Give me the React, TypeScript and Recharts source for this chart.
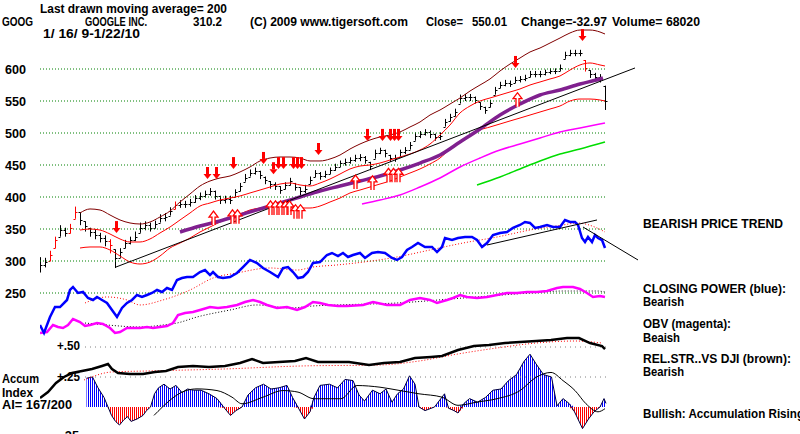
import React from "react";
import { ComposedChart, XAxis, YAxis, Bar, Line, Area, Scatter, ReferenceLine } from "recharts";

// GOOG 1/16/09 - 1/22/10, sampled about every 2nd session (index 0..113)
const closes = [
  294, 298, 309, 333, 348, 344, 352, 377, 364, 355,
  345, 341, 336, 331, 325, 305, 314, 328, 333, 338,
  352, 356, 352, 358, 367, 369, 378, 388, 389, 389,
  392, 398, 402, 405, 409, 402, 395, 397, 395, 408,
  417, 430, 438, 441, 434, 427, 420, 417, 411, 419,
  425, 416, 409, 413, 427, 438, 433, 436, 442, 447,
  453, 455, 458, 461, 462, 458, 448, 469, 473, 469,
  461, 461, 470, 473, 481, 495, 498, 502, 498, 494,
  495, 517, 525, 533, 555, 556, 556, 552, 542, 536,
  547, 567, 575, 578, 577, 583, 584, 586, 592, 592,
  592, 595, 597, 597, 602, 622, 625, 625, 625, 602,
  592, 588, 584, 550.01,
];
const highs = [
  306, 305, 316, 338, 356, 352, 358, 385, 376, 362,
  352, 350, 344, 340, 334, 318, 320, 333, 338, 346,
  360, 362, 360, 363, 373, 375, 384, 393, 395, 394,
  397, 403, 407, 410, 414, 410, 402, 402, 402, 412,
  422, 436, 443, 446, 441, 432, 425, 423, 417, 423,
  430, 422, 415, 419, 432, 442, 439, 441, 446, 452,
  457, 460, 462, 466, 467, 464, 455, 474, 477, 474,
  466, 466, 474, 478, 486, 501, 503, 506, 504, 499,
  501, 522, 530, 538, 560, 561, 561, 557, 548, 541,
  552, 572, 580, 583, 582, 588, 589, 591, 597, 597,
  597, 599, 601, 601, 607, 627, 630, 630, 630, 614,
  598, 594, 592, 574,
];
const lows = [
  282, 290, 300, 320, 338, 338, 343, 366, 356, 346,
  338, 334, 329, 323, 312, 289, 305, 320, 326, 331,
  344, 348, 346, 351, 360, 362, 371, 381, 383, 383,
  385, 391, 395, 399, 402, 396, 389, 390, 389, 400,
  409, 424, 432, 435, 428, 420, 413, 411, 405, 412,
  418, 410, 402, 406, 420, 431, 427, 430, 436, 441,
  447, 449, 452, 455, 456, 452, 442, 460, 467, 462,
  455, 455, 463, 467, 474, 488, 492, 496, 492, 488,
  489, 510, 518, 526, 546, 550, 550, 546, 536, 530,
  540, 560, 570, 573, 572, 578, 579, 581, 587, 587,
  587, 590, 592, 592, 597, 616, 620, 620, 620, 596,
  586, 582, 579, 536,
];
const redBars = [2, 3, 6, 7, 14, 27, 109];

type Pt = [number, number];

const upperBand: Pt[] = [
  [8, 375], [10, 381.3], [12, 379.7], [14, 371.9], [16, 364.1], [18, 359.4], [20, 357.8], [22, 360.9],
  [24, 368.8], [26, 378.1], [28, 392.2], [30, 404.7], [32, 417.2], [34, 425], [36, 429.7], [38, 432.8],
  [40, 439.1], [42, 446.9], [44, 456.3], [46, 460.9], [48, 462.5], [50, 462.5], [52, 460.9], [54, 456.3],
  [56, 456.3], [58, 459.4], [60, 465.6], [62, 475], [64, 482.8], [66, 489.1], [68, 493.8], [70, 496.9],
  [72, 501.6], [74, 509.4], [76, 517.2], [78, 528.1], [80, 535.9], [82, 545.3], [84, 554.7], [86, 565.6],
  [88, 575], [90, 584.4], [92, 596.9], [94, 607.8], [96, 617.2], [98, 626.6], [100, 632.8], [102, 640.6],
  [104, 648.4], [106, 656.3], [108, 660.9], [110, 660.9], [112, 657.8], [113, 654.7],
];
const midBand: Pt[] = [
  [8, 348.4], [10, 350], [12, 348.4], [14, 342.2], [16, 334.4], [18, 329.7], [20, 329.7], [22, 334.4],
  [24, 343.8], [26, 353.1], [28, 364.1], [30, 375], [32, 385.9], [34, 390.6], [36, 395.3], [38, 398.4],
  [40, 401.6], [42, 406.3], [44, 410.9], [46, 415.6], [48, 420.3], [50, 421.9], [52, 418.8], [54, 417.2],
  [56, 421.9], [58, 428.1], [60, 435.9], [62, 443.8], [64, 448.4], [66, 450], [68, 453.1], [70, 457.8],
  [72, 462.5], [74, 467.2], [76, 473.4], [78, 482.8], [80, 496.9], [82, 512.5], [84, 531.3], [86, 542.2],
  [88, 550], [90, 554.7], [92, 559.4], [94, 564.1], [96, 568.8], [98, 575], [100, 579.7], [102, 584.4],
  [104, 589.1], [106, 598.4], [108, 606.3], [110, 609.4], [112, 606.3], [113, 604.7],
];
const lowerBand: Pt[] = [
  [8, 320.3], [10, 321.9], [12, 321.9], [14, 317.2], [16, 307.8], [18, 298.4], [20, 295.3], [22, 298.4],
  [24, 307.8], [26, 320.3], [28, 328.1], [30, 335.9], [32, 345.3], [34, 353.1], [36, 360.9], [38, 367.2],
  [40, 373.4], [42, 379.7], [44, 382.8], [46, 384.4], [48, 384.4], [50, 384.4], [52, 382.8], [54, 382.8],
  [56, 385.9], [58, 392.2], [60, 398.4], [62, 406.3], [64, 410.9], [66, 415.6], [68, 420.3], [70, 425],
  [72, 431.3], [74, 437.5], [76, 443.8], [78, 451.6], [80, 460.9], [82, 475], [84, 485.9], [86, 495.3],
  [88, 504.7], [90, 509.4], [92, 514.1], [94, 518.8], [96, 523.4], [98, 528.1], [100, 532.8], [102, 537.5],
  [104, 542.2], [106, 550], [108, 553.1], [110, 553.1], [112, 551.6], [113, 550],
];
const ma50: Pt[] = [
  [28, 345.3], [32, 354.7], [36, 362.5], [40, 371.9], [44, 381.3], [48, 390.6], [52, 400], [56, 409.4],
  [60, 417.2], [64, 425], [68, 432.8], [72, 442.2], [76, 453.1], [80, 465.6], [84, 485.9], [88, 506.3],
  [92, 528.1], [96, 545.3], [100, 559.4], [104, 567.2], [108, 576.6], [112, 584.4], [112.6, 585.9],
];
const ma100: Pt[] = [
  [64.4, 389.1], [68, 395.3], [72, 403.1], [76, 415.6], [80, 429.7], [84, 446.9], [88, 460.9],
  [92, 473.4], [96, 482.8], [100, 492.2], [104, 501.6], [108, 507.8], [113, 515.6],
];
const ma200: Pt[] = [
  [87.4, 418.8], [92, 431.3], [96, 443.8], [100, 456.3], [104, 467.2], [108, 475], [113, 485.9],
];
const priceTrend: Pt[] = [[15.2, 290.6], [119, 601.6]];

const sells: Pt[] = [
  [15.2, 353], [33.4, 437.5], [35.2, 437.5], [38.6, 453], [44.6, 461], [46.6, 445], [47.6, 453],
  [48.6, 453], [50.6, 453], [51.4, 453], [52.2, 453], [55.6, 475], [65.4, 497], [68.4, 497],
  [70, 497], [70.8, 497], [71.6, 497], [95, 611], [108.4, 653],
];
const buys: Pt[] = [
  [34.6, 367], [38.4, 369], [39.4, 369], [46, 383], [47, 383], [48, 383], [49, 383], [49.8, 383],
  [51, 377], [52, 377], [63, 423.4], [66.4, 422], [69.6, 434], [70.6, 434], [71.6, 434], [95.4, 552],
];

// Closing power (blue), drawn on the price scale
const closingPower: Pt[] = [
  [0, 200], [0.8, 187.5], [2, 212.5], [3, 228.1], [4, 228.1], [5.4, 239.1], [6, 254.7], [6.6, 259.4],
  [7.6, 250], [8.6, 251.6], [9.6, 242.2], [10.6, 239.1], [11.4, 243.8], [12.4, 239.1], [13.4, 234.4],
  [14.4, 223.4], [15.4, 212.5], [16.4, 226.6], [17.4, 234.4], [18.4, 239.1], [19.4, 246.9], [20.4, 243.8],
  [21.4, 246.9], [22.4, 250], [23.4, 254.7], [24.4, 251.6], [25.4, 257.8], [26.4, 254.7], [27.4, 270.3],
  [28.4, 273.4], [29.4, 275], [30.6, 275], [32, 282.8], [33, 285.9], [34, 278.1], [34.6, 282.8],
  [35.6, 275], [36.6, 273.4], [38, 275], [39.4, 281.3], [40.6, 290.6], [42, 301.6], [43.4, 296.9],
  [44.6, 289], [46, 282.8], [47.6, 275], [48.6, 289], [49.6, 290.6], [50.6, 282.8], [51.6, 273.4],
  [52.6, 275], [53.6, 282.8], [54.6, 296.9], [56, 298.4], [57.4, 309.4], [58.4, 312.5], [59.6, 307.8],
  [60.6, 312.5], [61.6, 306.3], [62.6, 309.4], [64, 312.5], [65, 304.7], [66.4, 312.5], [67.6, 314],
  [69, 312.5], [70.4, 304.7], [71.4, 301.6], [72.4, 306.3], [73.4, 317.2], [74.4, 321.9], [75.6, 328.1],
  [77, 321.9], [78.4, 321.9], [79.4, 314], [80.4, 321.9], [81, 335.9], [82.4, 332.8], [83.6, 335.9],
  [85, 337.5], [86.4, 337.5], [87.4, 332.8], [88.4, 321.9], [89.4, 328.1], [90.6, 340.6], [92, 343.8],
  [93.4, 345.3], [94.6, 351.6], [96, 356.3], [97, 360.9], [98, 359.4], [99, 351.6], [100, 353.1],
  [101.4, 356.3], [102.6, 353.1], [104, 353.1], [105, 364], [106, 360.9], [107, 360.9], [107.6, 356.3],
  [108.4, 335.9], [109, 329.7], [109.6, 337.5], [110.4, 329.7], [111, 340.6], [111.6, 335.9],
  [112.4, 332.8], [113, 320.3],
];
const closingPowerMa: Pt[] = [
  [9, 234.4], [13.4, 243.8], [17.4, 239.1], [20, 231.3], [24.6, 239.1], [30, 254.7], [34.6, 273.4],
  [39.4, 281.3], [46, 289.1], [51.4, 285.9], [54.6, 290.6], [59.4, 293.8], [71.4, 306.3], [78, 317.2],
  [84.6, 328.1], [91.4, 337.5], [98, 348.4], [104.6, 356.3], [107.4, 359.4], [111.4, 351.6], [113, 345.3],
];
const cpUpTrend: Pt[] = [[89.4, 325], [111.4, 364.1]];
const cpDownTrend: Pt[] = [[108.6, 353.1], [119.6, 301.6]];

// OBV (magenta), also on the price scale
const obv: Pt[] = [
  [0, 187.5], [1.4, 189.1], [2.6, 200], [3.6, 196.9], [4.6, 195.3], [5.6, 200], [6.6, 209.4], [8, 204.7],
  [9, 198.4], [10, 200], [11.4, 203.1], [12.6, 201.6], [14, 195.3], [15, 187.5], [16, 189.1], [17.4, 195.3],
  [18.6, 195.3], [20, 195.3], [21.4, 196.9], [22.6, 195.3], [24, 196.9], [25.4, 198.4], [26.6, 203.1],
  [27.6, 215.6], [29, 218.8], [30.6, 220.3], [32, 223.4], [34, 228.1], [35.6, 226.6], [37.4, 228.1],
  [39.4, 231.3], [41, 235.9], [42.6, 239.1], [44, 235.9], [45.4, 231.3], [47.4, 226.6], [49.4, 228.1],
  [51.4, 223.4], [53, 228.1], [54.6, 235.9], [56, 234.4], [57.6, 231.3], [59.6, 229.7], [61.4, 229.7],
  [64.6, 231.3], [66.6, 235.9], [69.4, 231.3], [72, 231.3], [74, 239.1], [76, 242.2], [78, 239.1],
  [79.4, 234.4], [81.4, 239.1], [82.6, 242.2], [84, 246.9], [85.4, 243.8], [87.4, 242.2], [89.4, 243.8],
  [91.4, 246.9], [93.4, 250], [95.4, 250], [97.4, 251.6], [99.4, 251.6], [101.4, 253.1], [103.4, 257.8],
  [104.6, 259.4], [106.6, 259.4], [108, 256.3], [109.4, 250], [110.6, 243.8], [112, 245.3], [113, 243.8],
];
const obvMa: Pt[] = [
  [9, 203.1], [13.4, 200], [20, 196.9], [24.6, 200], [27.4, 203.1], [31.4, 212.5], [38, 223.4],
  [43.4, 231.3], [50, 226.6], [54.6, 229.7], [59.4, 231.3], [71.4, 234.4], [84.6, 242.2], [98, 250],
  [104.6, 253.1], [111.4, 253.1], [113, 251.6],
];

// Relative strength vs DJI and accumulation index, on the +.25 / +.50 scale
const relStrength: Pt[] = [
  [0, 0.075], [1.6, 0.125], [3.2, 0.2], [4.8, 0.25], [6.4, 0.283], [8.4, 0.3], [10.4, 0.317], [12.4, 0.342],
  [13.6, 0.358], [14.4, 0.317], [15.6, 0.283], [18, 0.275], [20.6, 0.275], [23, 0.292], [25.2, 0.3],
  [27.6, 0.333], [30.6, 0.342], [33.8, 0.333], [37, 0.342], [40, 0.367], [42.4, 0.4], [44.6, 0.367],
  [47.8, 0.375], [51, 0.383], [53.2, 0.408], [55.6, 0.375], [58.6, 0.375], [61.8, 0.375], [65.8, 0.35],
  [68.8, 0.367], [72, 0.375], [75, 0.408], [78.2, 0.417], [80.4, 0.425], [83.6, 0.475], [86.8, 0.508],
  [89.8, 0.517], [93, 0.533], [96, 0.542], [99.2, 0.55], [102.2, 0.558], [105.4, 0.575], [107.8, 0.575],
  [110, 0.533], [112.4, 0.508], [113, 0.483],
];
const relStrengthMa: Pt[] = [
  [8.8, 0.225], [14.4, 0.292], [21.4, 0.3], [37, 0.317], [52.4, 0.342], [68, 0.35], [75.8, 0.383],
  [83.6, 0.442], [91.4, 0.492], [99.2, 0.533], [107, 0.55], [112.4, 0.533],
];
const accumIndex: Pt[] = [
  [9.3, 0.24], [10.5, 0.25], [11.6, 0.16], [12.8, 0.08], [13.6, 0], [14.3, -0.07], [15.1, -0.12],
  [15.9, -0.15], [16.7, -0.11], [17.5, -0.08], [18.2, -0.12], [19.4, -0.1], [20.6, -0.07], [21.3, -0.03],
  [22.1, 0], [22.9, 0.11], [23.7, 0.16], [24.8, 0.19], [26, 0.15], [27.2, 0.18], [28.4, 0.12], [29.5, 0.15],
  [30.7, 0.14], [32.2, 0.14], [33.8, 0.11], [35.4, 0.07], [36.9, -0.01], [38.1, -0.07], [39.2, -0.03],
  [40.4, 0], [41.6, 0.1], [43.1, 0.16], [44.7, 0.19], [46.2, 0.15], [47.8, 0.16], [49.4, 0.18], [50.5, 0.08],
  [51.7, -0.01], [52.9, -0.1], [54, -0.04], [54.8, 0.08], [56, 0.18], [57.9, 0.19], [59.5, 0.16], [61, 0.23],
  [62.6, 0.22], [63.8, 0.1], [64.9, 0.05], [66.5, 0.14], [68, 0.11], [69.2, 0.15], [70.4, 0.04], [71.5, 0.11],
  [72.7, 0.15], [73.9, 0.26], [75, 0.19], [75.8, 0], [77, -0.03], [78.9, 0], [80.9, 0.11], [81.7, -0.01],
  [82.8, -0.03], [83.6, -0.05], [84.8, 0.03], [85.9, 0.07], [87.5, 0.04], [89.1, 0.08], [90.6, 0.14],
  [92.2, 0.15], [93.7, 0.22], [95.3, 0.27], [96.8, 0.38], [98, 0.44], [99.2, 0.36], [100.7, 0.27],
  [102.3, 0.25], [103.4, 0.01], [104.6, 0.07], [105.8, 0.03], [106.9, -0.04], [108.5, -0.18],
  [109.7, -0.1], [110.8, -0.04], [112, 0], [112.8, 0.07], [113.2, 0.03],
];
const accumMa: Pt[] = [
  [22.8, -0.07], [29.2, 0.137], [31.4, 0.151], [35.4, 0.137], [38.4, 0.082], [40.4, 0.027], [44.6, 0.082],
  [48.6, 0.137], [51.6, 0.124], [54.8, 0.069], [60.2, 0.069], [63.4, 0.179], [68, 0.165], [72, 0.137],
  [75.8, 0.11], [80.4, 0.082], [83.6, 0.014], [87.4, 0.041], [91.4, 0.069], [96, 0.137], [99.2, 0.247],
  [102.2, 0.288], [104.6, 0.22], [107, 0.137], [109.2, 0.027], [111.6, -0.04], [113, -0.014],
];

const priceTicks = [600, 550, 500, 450, 400, 350, 300, 250];
const aiTicks = [0.5, 0.25];

const bars = closes.map((c, i) => ({
  i,
  c,
  hi: highs[i],
  lo: lows[i],
  o: Math.min(highs[i], Math.max(lows[i], i > 0 ? closes[i - 1] : c)),
  red: redBars.includes(i),
  range: [lows[i], highs[i]],
}));
const pts = (list: Pt[]) => list.map(([i, v]) => ({ i, v }));
const aiPos = accumIndex.map(([i, v]) => ({ i, v: Math.max(v, 0) }));
const aiNeg = accumIndex.map(([i, v]) => ({ i, v: Math.min(v, 0) }));

const FONT = "'Liberation Sans', Arial, Helvetica, sans-serif";

const labels = [
  { t: "Last drawn moving average= 200", x: 40, y: 13, w: 187 },
  { t: "GOOG", x: 2, y: 26, w: 31 },
  { t: "GOOGLE INC.", x: 85, y: 26, w: 62 },
  { t: "310.2", x: 193, y: 26, w: 29 },
  { t: "(C) 2009 www.tigersoft.com", x: 250, y: 26, w: 158 },
  { t: "Close=", x: 426, y: 26, w: 37 },
  { t: "550.01", x: 472, y: 26, w: 35 },
  { t: "Change=-32.97", x: 521, y: 26, w: 86 },
  { t: "Volume= 68020", x: 612, y: 26, w: 88 },
  { t: "1/ 16/ 9-1/22/10", x: 43, y: 38, w: 97 },
  { t: "+.50", x: 57, y: 350, w: 23 },
  { t: "+.25", x: 57, y: 381, w: 23 },
  { t: "-.25", x: 57, y: 440, w: 22 },
  { t: "Accum", x: 2, y: 383, w: 37 },
  { t: "Index", x: 2, y: 397, w: 31 },
  { t: "AI= 167/200", x: 2, y: 409, w: 70 },
  { t: "BEARISH PRICE TREND", x: 643, y: 228, w: 140 },
  { t: "CLOSING POWER (blue):", x: 643, y: 293, w: 143 },
  { t: "Bearish", x: 643, y: 306, w: 41 },
  { t: "OBV (magenta):", x: 643, y: 328, w: 88 },
  { t: "Beaish", x: 643, y: 342, w: 37 },
  { t: "REL.STR..VS DJI (brown):", x: 643, y: 363, w: 148 },
  { t: "Bearish", x: 643, y: 376, w: 41 },
  { t: "Bullish: Accumulation Rising", x: 643, y: 418, w: 161 },
];

const PriceBar = (p: any) => {
  const { x, y, width, height, payload } = p;
  if (x == null || y == null || !payload) return null;
  const top = Math.min(y, y + height);
  const h = Math.abs(height);
  const cx = Math.round(x + width / 2) + 0.5;
  const span = payload.hi - payload.lo || 1;
  const yc = Math.round(top + ((payload.hi - payload.c) / span) * h) + 0.5;
  const yo = Math.round(top + ((payload.hi - payload.o) / span) * h) + 0.5;
  const col = payload.red ? "#ff0000" : "#000000";
  return (
    <g stroke={col} strokeWidth={1}>
      <line x1={cx} x2={cx} y1={top} y2={top + h} />
      <line x1={cx - 2} x2={cx} y1={yo} y2={yo} />
      <line x1={cx} x2={cx + 2} y1={yc} y2={yc} />
    </g>
  );
};

const SellArrow = (p: any) => {
  const { cx, cy } = p;
  if (cx == null) return null;
  return (
    <g fill="#ff0000">
      <rect x={cx - 1} y={cy - 6} width={3} height={7} />
      <polygon points={`${cx - 3.5},${cy + 1} ${cx + 4.5},${cy + 1} ${cx + 0.5},${cy + 6}`} />
    </g>
  );
};

const BuyArrow = (p: any) => {
  const { cx, cy } = p;
  if (cx == null) return null;
  return (
    <path
      d={`M${cx - 1} ${cy + 7} V${cy - 1} H${cx - 4} L${cx + 0.5} ${cy - 7} L${cx + 5} ${cy - 1} H${cx + 2} V${cy + 7}`}
      fill="#ffffff"
      stroke="#ff0000"
      strokeWidth={1.3}
    />
  );
};

export default function App() {
  const line = (data: Pt[], axis: string, color: string, width: number, dash?: string, type: any = "monotone") => (
    <Line
      data={pts(data)}
      dataKey="v"
      yAxisId={axis}
      type={type}
      stroke={color}
      strokeWidth={width}
      strokeDasharray={dash}
      dot={false}
      activeDot={false}
      isAnimationActive={false}
    />
  );

  return (
    <div style={{ position: "absolute", left: 0, top: 0, width: 800, height: 434, overflow: "hidden", background: "#fff" }}>
      <svg width={0} height={0} style={{ position: "absolute" }}>
        <defs>
          <pattern id="aiBlue" patternUnits="userSpaceOnUse" width={2} height={4}>
            <rect x={0} y={0} width={1} height={4} fill="#0000ff" />
          </pattern>
          <pattern id="aiRed" patternUnits="userSpaceOnUse" width={2} height={4}>
            <rect x={0} y={0} width={1} height={4} fill="#ff0000" />
          </pattern>
        </defs>
      </svg>
      <ComposedChart width={800} height={434} data={bars} margin={{ top: 0, right: 160, bottom: 0, left: 40 }}>
        <XAxis type="number" dataKey="i" domain={[0, 120]} hide allowDataOverflow />
        <YAxis yAxisId="price" type="number" domain={[29.6875, 707.8125]} hide allowDataOverflow />
        <YAxis yAxisId="ai" type="number" domain={[-0.225, 3.39167]} hide allowDataOverflow />

        {priceTicks.map((t) => (
          <ReferenceLine
            key={t}
            yAxisId="price"
            segment={[{ x: 0, y: t }, { x: 113.4, y: t }]}
            stroke="#008000"
            strokeDasharray="1 2"
            ifOverflow="visible"
          />
        ))}
        {aiTicks.map((t) => (
          <ReferenceLine
            key={t}
            yAxisId="ai"
            segment={[{ x: 9, y: t }, { x: 113.4, y: t }]}
            stroke="#808080"
            strokeDasharray="1 4"
            ifOverflow="visible"
          />
        ))}

        <Area data={aiPos} dataKey="v" yAxisId="ai" type="linear" baseValue={0} fill="url(#aiBlue)" fillOpacity={1} stroke="none" isAnimationActive={false} />
        <Area data={aiNeg} dataKey="v" yAxisId="ai" type="linear" baseValue={0} fill="url(#aiRed)" fillOpacity={1} stroke="none" isAnimationActive={false} />
        {line(accumIndex, "ai", "#000040", 1, undefined, "linear")}
        {line(accumMa, "ai", "#000000", 1)}
        {line(relStrengthMa, "ai", "#ff0000", 1, "1 2")}
        {line(relStrength, "ai", "#000000", 2.5, undefined, "linear")}

        {line(obvMa, "price", "#000000", 1, "1 2")}
        {line(obv, "price", "#ff00ff", 2.5, undefined, "linear")}
        {line(closingPowerMa, "price", "#ff0000", 1, "1 2")}
        {line(closingPower, "price", "#0000ff", 2.5, undefined, "linear")}
        {line(cpUpTrend, "price", "#000000", 1, undefined, "linear")}
        {line(cpDownTrend, "price", "#000000", 1, undefined, "linear")}

        {line(ma200, "price", "#00dd00", 1.5)}
        {line(ma100, "price", "#ff00ff", 1.5)}
        {line(lowerBand, "price", "#ff0000", 1)}
        {line(midBand, "price", "#ff0000", 1)}
        {line(upperBand, "price", "#800000", 1)}
        {line(ma50, "price", "#80208f", 3.5)}
        {line(priceTrend, "price", "#000000", 1, undefined, "linear")}

        <Bar dataKey="range" yAxisId="price" barSize={3} shape={PriceBar} isAnimationActive={false} />

        <Scatter data={sells.map(([i, p]) => ({ i, p }))} dataKey="p" yAxisId="price" shape={SellArrow} isAnimationActive={false} />
        <Scatter data={buys.map(([i, p]) => ({ i, p }))} dataKey="p" yAxisId="price" shape={BuyArrow} isAnimationActive={false} />
      </ComposedChart>

      <svg width={800} height={434} style={{ position: "absolute", left: 0, top: 0, pointerEvents: "none" }}>
        {priceTicks.map((t) => (
          <text
            key={t}
            x={5}
            y={69 + (600 - t) * 0.64 + 4.5}
            textLength={21}
            lengthAdjust="spacingAndGlyphs"
            fontFamily={FONT}
            fontWeight="bold"
            fontSize={12}
          >
            {t}
          </text>
        ))}
        {labels.map((l) => (
          <text
            key={l.t + l.y}
            x={l.x}
            y={l.y}
            textLength={l.w}
            lengthAdjust="spacingAndGlyphs"
            fontFamily={FONT}
            fontWeight="bold"
            fontSize={12}
          >
            {l.t}
          </text>
        ))}
      </svg>
    </div>
  );
}
